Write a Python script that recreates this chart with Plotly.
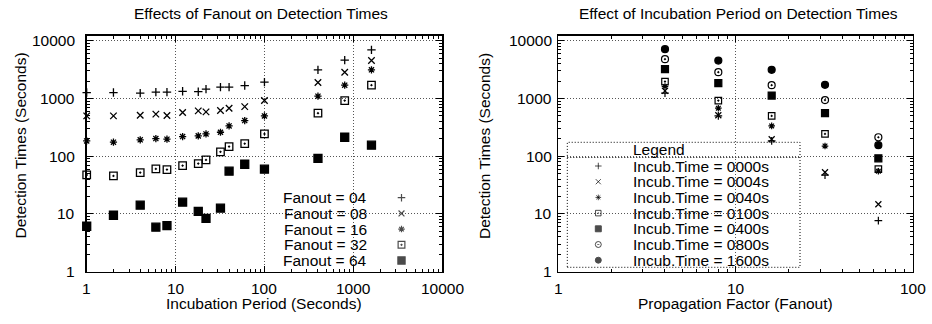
import math
import plotly.graph_objects as go

W, H = 932, 324

# ---------------- data: left chart ----------------
incub_period = [1, 2, 4, 6, 8, 12, 18, 22, 32, 40, 60, 100, 400, 800, 1600]
fanout_labels = ["Fanout = 04", "Fanout = 08", "Fanout = 16", "Fanout = 32", "Fanout = 64"]
det_fanout04 = [1265, 1265, 1236, 1290, 1290, 1330, 1310, 1450, 1570, 1570, 1675, 1915, 3130, 4610, 6950]
det_fanout08 = [499, 499, 513, 535, 506, 570, 609, 586, 618, 679, 723, 920, 1888, 2850, 4540]
det_fanout16 = [184, 175, 192, 202, 197, 219, 225, 243, 260, 335, 414, 499, 1097, 1700, 3130]
det_fanout32 = [47.4, 45.6, 52, 60.3, 58.6, 68.7, 74.5, 86.3, 119, 147, 165, 243, 556, 920, 1700]
det_fanout64 = [6.12, 9.5, 14.2, 5.9, 6.27, 16, 11.1, 8.4, 12.6, 55, 72.6, 59.6, 92, 213, 155]

# ---------------- data: right chart ----------------
fanout_values = [4, 8, 16, 32, 64]
incub_labels = ["Incub.Time = 0000s", "Incub.Time = 0004s", "Incub.Time = 0040s",
                "Incub.Time = 0100s", "Incub.Time = 0400s", "Incub.Time = 0800s",
                "Incub.Time = 1600s"]
det_incub0000 = [1236, 499, 184, 47, 7.65]
det_incub0004 = [1355, 513, 197, 52.7, 14.7]
det_incub0040 = [1607, 679, 335, 150, 55]
det_incub0100 = [1963, 920, 499, 243, 59.6]
det_incub0400 = [3220, 1842, 1123, 556, 92]
det_incub0800 = [4800, 2850, 1700, 937, 213]
det_incub1600 = [7150, 4540, 3130, 1720, 155]

# ---------------- tick labels ----------------
y_tick_vals = [1, 10, 100, 1000, 10000]
y_tick_text = ["1", "10", "100", "1000", "10000"]
xl_tick_vals = [1, 10, 100, 1000, 10000]
xl_tick_text = ["1", "10", "100", "1000", "10000"]
xr_tick_vals = [1, 10, 100]
xr_tick_text = ["1", "10", "100"]

# ---------------- styling ----------------
FONT = "Liberation Sans, Arial, Helvetica, sans-serif"
FS = 15.5
left_styles = [("cross-thin-open", 6), ("x-thin-open", 6.5), ("asterisk-open", 6),
               ("square-open-dot", 7.5), ("square", 8)]
right_styles = [("cross-thin-open", 5.5), ("x-thin-open", 6), ("asterisk-open", 5.5),
                ("square-open-dot", 6.5), ("square", 7), ("circle-open-dot", 7),
                ("circle", 7)]


def minor_vals(decades):
    return [m * 10 ** d for d in range(decades) for m in range(2, 10)]


def px(x):
    return x / W


def py(y):
    return 1 - y / H


fig = go.Figure()

left_series = [det_fanout04, det_fanout08, det_fanout16, det_fanout32, det_fanout64]
for vals, (sym, sz), name in zip(left_series, left_styles, fanout_labels):
    fig.add_trace(go.Scatter(
        x=incub_period, y=vals, mode="markers", name=name, showlegend=False,
        xaxis="x", yaxis="y", cliponaxis=False,
        marker=dict(symbol=sym, size=sz, color="black",
                    line=dict(color="black", width=1.3))))

right_series = [det_incub0000, det_incub0004, det_incub0040, det_incub0100,
                det_incub0400, det_incub0800, det_incub1600]
for vals, (sym, sz), name in zip(right_series, right_styles, incub_labels):
    fig.add_trace(go.Scatter(
        x=fanout_values, y=vals, mode="markers", name=name, showlegend=False,
        xaxis="x2", yaxis="y2", cliponaxis=False,
        marker=dict(symbol=sym, size=sz, color="black",
                    line=dict(color="black", width=1.2))))

annotations = []
txt_font = dict(family=FONT, size=FS, color="black")

# ----- left legend (text right, key to the right) -----
LL_TEXT_X, LL_KEY_X = 369, 401.5
LL_ROWS = [197.7, 213.4, 229.1, 244.8, 260.5]
fig.add_trace(go.Scatter(
    x=[LL_KEY_X] * len(LL_ROWS), y=LL_ROWS, mode="markers", showlegend=False,
    xaxis="x3", yaxis="y3", hoverinfo="skip", cliponaxis=False,
    marker=dict(symbol=[s for s, _ in left_styles], size=[z * 0.9 for _, z in left_styles],
                color="black", line=dict(color="black", width=1.2))))
for name, yy in zip(fanout_labels, LL_ROWS):
    annotations.append(dict(text=name, x=px(LL_TEXT_X), y=py(yy), xref="paper", yref="paper",
                            xanchor="right", yanchor="middle", showarrow=False, font=txt_font))

# ----- right legend (boxed, key left) -----
RL_BOX = (567.3, 142.3, 800, 267.3)
RL_TEXT_X, RL_KEY_X = 630.7, 598.3
RL_TITLE_Y = 149.5
RL_ROWS = [166, 181.7, 197.4, 213.1, 228.8, 244.5, 260.2]
fig.add_trace(go.Scatter(
    x=[RL_KEY_X] * len(RL_ROWS), y=RL_ROWS, mode="markers", showlegend=False,
    xaxis="x3", yaxis="y3", hoverinfo="skip", cliponaxis=False,
    marker=dict(symbol=[s for s, _ in right_styles], size=[z * 0.85 for _, z in right_styles],
                color="black", line=dict(color="black", width=1.0))))
annotations.append(dict(text="Legend", x=px(RL_TEXT_X), y=py(RL_TITLE_Y), xref="paper",
                        yref="paper", xanchor="left", yanchor="middle", showarrow=False,
                        font=txt_font))
for name, yy in zip(incub_labels, RL_ROWS):
    annotations.append(dict(text=name, x=px(RL_TEXT_X), y=py(yy), xref="paper", yref="paper",
                            xanchor="left", yanchor="middle", showarrow=False, font=txt_font))

shapes = [
    dict(type="rect", xref="paper", yref="paper", x0=px(RL_BOX[0]), x1=px(RL_BOX[2]),
         y0=py(RL_BOX[3]), y1=py(RL_BOX[1]), line=dict(color="black", width=1, dash="1px,2px"),
         fillcolor="white", layer="between"),
    dict(type="line", xref="paper", yref="paper", x0=px(RL_BOX[0]), x1=px(RL_BOX[2]),
         y0=py(157.5), y1=py(157.5), line=dict(color="black", width=1, dash="1px,2px")),
]

# ----- tick labels as text -----
for v, t in zip(y_tick_vals, y_tick_text):
    annotations.append(dict(text=t, x=px(76.5), y=math.log10(v), xref="paper", yref="y",
                            xanchor="right", yanchor="middle", showarrow=False, font=txt_font))
    annotations.append(dict(text=t, x=px(553.5), y=math.log10(v), xref="paper", yref="y2",
                            xanchor="right", yanchor="middle", showarrow=False, font=txt_font))
for v, t in zip(xl_tick_vals, xl_tick_text):
    annotations.append(dict(text=t, x=math.log10(v), y=py(288), xref="x", yref="paper",
                            xanchor="center", yanchor="middle", showarrow=False, font=txt_font))
for v, t in zip(xr_tick_vals, xr_tick_text):
    annotations.append(dict(text=t, x=math.log10(v), y=py(288), xref="x2", yref="paper",
                            xanchor="center", yanchor="middle", showarrow=False, font=txt_font))

# ----- titles -----
annotations += [
    dict(text="Effects of Fanout on Detection Times", x=px(261), y=py(14), xref="paper",
         yref="paper", xanchor="center", yanchor="middle", showarrow=False, font=txt_font),
    dict(text="Effect of Incubation Period on Detection Times", x=px(738), y=py(14),
         xref="paper", yref="paper", xanchor="center", yanchor="middle", showarrow=False,
         font=txt_font),
    dict(text="Incubation Period (Seconds)", x=px(264), y=py(303), xref="paper", yref="paper",
         xanchor="center", yanchor="middle", showarrow=False, font=txt_font),
    dict(text="Propagation Factor (Fanout)", x=px(735), y=py(303), xref="paper", yref="paper",
         xanchor="center", yanchor="middle", showarrow=False, font=txt_font),
    dict(text="Detection Times (Seconds)", x=px(19.5), y=py(146), xref="paper", yref="paper",
         xanchor="center", yanchor="middle", showarrow=False, textangle=-90, font=txt_font),
    dict(text="Detection Times (Seconds)", x=px(484), y=py(146), xref="paper", yref="paper",
         xanchor="center", yanchor="middle", showarrow=False, textangle=-90, font=txt_font),
]

Y_DOM = [py(271.7), py(35.7)]


def log_axis(domain, rng, tv, ndec, anchor):
    return dict(
        type="log", domain=domain, range=rng, anchor=anchor,
        tickmode="array", tickvals=tv, showticklabels=False,
        ticks="inside", ticklen=6, tickwidth=1, tickcolor="black",
        showline=True, linecolor="black", linewidth=1.5, mirror="allticks",
        showgrid=True, gridcolor="#555555", gridwidth=1, griddash="1px,2px",
        zeroline=False,
        minor=dict(tickmode="array", tickvals=minor_vals(ndec), ticks="inside",
                   ticklen=3, tickwidth=1, tickcolor="black", showgrid=False),
    )


fig.update_layout(
    width=W, height=H, margin=dict(l=0, r=0, t=0, b=0),
    paper_bgcolor="white", plot_bgcolor="rgba(0,0,0,0)",
    showlegend=False, hovermode=False,
    font=dict(family=FONT, size=FS, color="black"),
    xaxis=log_axis([px(86.7), px(442.2)], [0, 4], xl_tick_vals, 4, "y"),
    yaxis=log_axis(Y_DOM, [0, 4.087], y_tick_vals, 5, "x"),
    xaxis2=log_axis([px(558.3), px(912.7)], [0, 2], xr_tick_vals, 2, "y2"),
    yaxis2=log_axis(Y_DOM, [0, 4.087], y_tick_vals, 5, "x2"),
    xaxis3=dict(domain=[0, 1], range=[0, W], visible=False, anchor="y3", fixedrange=True),
    yaxis3=dict(domain=[0, 1], range=[H, 0], visible=False, anchor="x3", fixedrange=True),
    annotations=annotations,
    shapes=shapes,
)

fig.write_html(
    "out.html",
    config={"displayModeBar": False, "staticPlot": True},
    post_script="document.body.style.margin='0';document.body.style.overflow='hidden';",
)
